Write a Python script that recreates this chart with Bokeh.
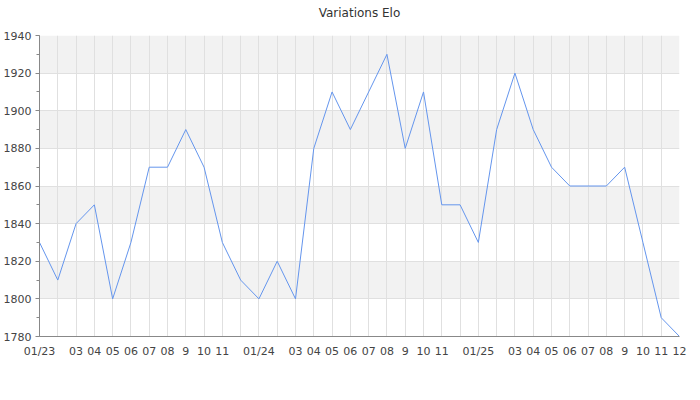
from bokeh.plotting import figure
from bokeh.models import Range1d, FixedTicker, SingleIntervalTicker, Title
from bokeh.embed import file_html
from bokeh.resources import INLINE

# Monthly Elo values, 01/2023 .. 12/2025
elo = [1830, 1810, 1840, 1850, 1800, 1830, 1870, 1870, 1890, 1870, 1830, 1810,
       1800, 1820, 1800, 1880, 1910, 1890, 1910, 1930, 1880, 1910, 1850, 1850,
       1830, 1890, 1920, 1890, 1870, 1860, 1860, 1860, 1870, 1830, 1790, 1780]

tick_labels = ["01/23", "", "03", "04", "05", "06", "07", "08", "9", "10", "11", "",
               "01/24", "", "03", "04", "05", "06", "07", "08", "9", "10", "11", "",
               "01/25", "", "03", "04", "05", "06", "07", "08", "9", "10", "11", "12"]

x = list(range(len(elo)))

p = figure(frame_width=640, frame_height=301, output_backend="svg",
           toolbar_location=None, title="Variations Elo",
           x_range=Range1d(0, len(elo) - 1), y_range=Range1d(1780, 1940),
           min_border_left=32, min_border_right=10, min_border_top=0, min_border_bottom=0)
p.outline_line_color = None
p.background_fill_color = "white"

p.title.align = "center"
p.title.vertical_align = "top"
p.title.text_font = "DejaVu Sans"
p.title.text_font_size = "12px"
p.title.text_font_style = "normal"
p.title.text_color = "#333333"
p.title.standoff = 10

# spacer between title and plot area
p.add_layout(Title(text=" ", text_font_size="2px", standoff=5), "above")

p.line(x, elo, line_color="#6495ED", line_width=1)

# x axis
p.xaxis.ticker = FixedTicker(ticks=x)
p.xaxis.major_label_overrides = {i: t for i, t in zip(x, tick_labels)}
p.xaxis.major_tick_out = 0
p.xaxis.major_tick_in = 0
p.xaxis.minor_tick_out = 0
p.xaxis.minor_tick_in = 0
p.xaxis.major_label_standoff = 8
p.xaxis.axis_line_color = "#888888"
p.xaxis.major_label_text_font = "DejaVu Sans"
p.xaxis.major_label_text_font_size = "11px"
p.xaxis.major_label_text_color = "#444444"

# y axis
p.yaxis.ticker = SingleIntervalTicker(interval=20, num_minor_ticks=2)
p.yaxis.major_tick_out = 4
p.yaxis.major_tick_in = 0
p.yaxis.minor_tick_out = 3
p.yaxis.minor_tick_in = 0
p.yaxis.major_label_standoff = 4
p.yaxis.axis_line_color = "#888888"
p.yaxis.major_tick_line_color = "#888888"
p.yaxis.minor_tick_line_color = "#888888"
p.yaxis.major_label_text_font = "DejaVu Sans"
p.yaxis.major_label_text_font_size = "11px"
p.yaxis.major_label_text_color = "#444444"

# grids
p.ygrid.level = "image"
p.ygrid.ticker = FixedTicker(ticks=[1800, 1820, 1840, 1860, 1880, 1900, 1920, 1940])
p.ygrid.grid_line_color = "#e0e0e0"
p.ygrid.band_fill_color = "#f2f2f2"
p.ygrid.band_fill_alpha = 1.0
p.xgrid.ticker = FixedTicker(ticks=x)
p.xgrid.grid_line_color = "#e0e0e0"

open("out.html", "w").write(file_html(p, INLINE))
